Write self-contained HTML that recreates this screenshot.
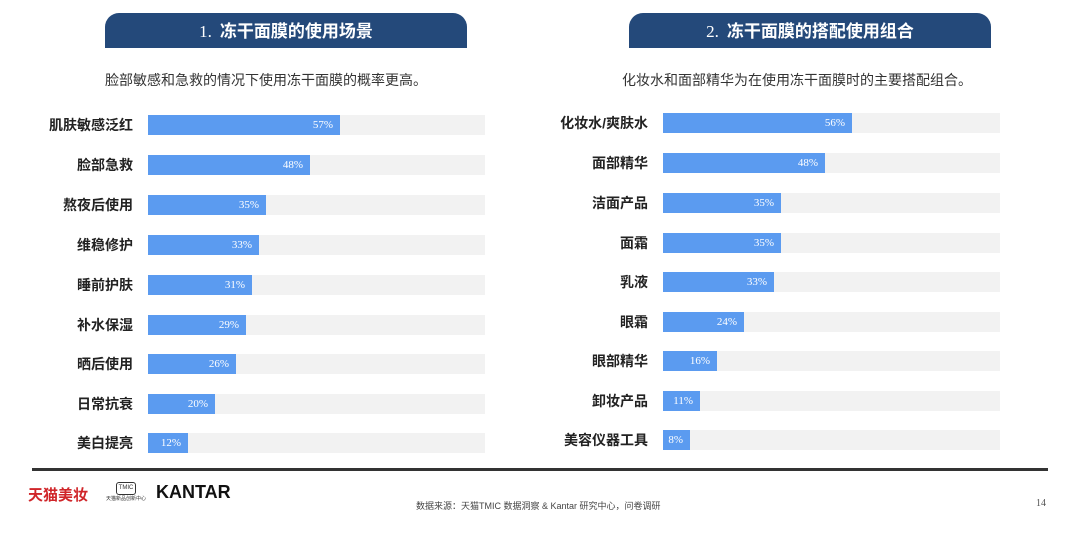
<!DOCTYPE html>
<html><head><meta charset="utf-8"><style>
body{margin:0;width:1080px;height:536px;background:#fff;position:relative;overflow:hidden;font-family:"Liberation Sans","Noto Sans CJK SC",sans-serif}
.hd{position:absolute;top:13px;height:35px;width:362px;background:#24497a;border-radius:14px 14px 0 0;color:#fff;font-size:17px;font-weight:bold;text-align:center;line-height:37px}
.hd span{font-family:"Liberation Serif",serif;font-weight:normal;margin-right:8px}
.sub{position:absolute;top:70px;font-size:14px;color:#333}
.lb{position:absolute;width:150px;text-align:right;font-size:14px;font-weight:bold;color:#222;height:20px;line-height:20px}
.tr{position:absolute;width:337px;height:20px;background:#f2f2f2}
.br{position:absolute;left:0;top:0;height:20px;background:#5b9bf0;color:#fff;font-family:"Liberation Serif",serif;font-size:11px;line-height:20px;text-align:right;box-sizing:border-box;padding-right:7px}
</style></head><body>
<div class="hd" style="left:105px"><span>1.</span>冻干面膜的使用场景</div>
<div class="hd" style="left:629px"><span>2.</span>冻干面膜的搭配使用组合</div>
<div class="sub" style="left:105px">脸部敏感和急救的情况下使用冻干面膜的概率更高。</div>
<div class="sub" style="left:622px">化妆水和面部精华为在使用冻干面膜时的主要搭配组合。</div>
<div id="c"></div>
<div style="position:absolute;left:32px;top:468px;width:1016px;height:3px;background:#333"></div>
<div style="position:absolute;left:28px;top:484px;font-size:15px;font-weight:bold;color:#d0262a">天猫美妆</div>
<div style="position:absolute;left:103px;top:482px;width:46px;font-size:5px;text-align:center;color:#333"><div style="margin:0 auto;width:18px;height:11px;border:1px solid #333;border-radius:3px;font-size:6px;line-height:11px">TMIC</div>天猫新品创新中心</div>
<div style="position:absolute;left:156px;top:482px;font-size:18px;font-weight:bold;color:#111">KANTAR</div>
<div style="position:absolute;left:416px;top:499px;font-size:9px;color:#444">数据来源：天猫TMIC 数据洞察 &amp; Kantar 研究中心，问卷调研</div>
<div style="position:absolute;left:1036px;top:498px;font-size:10px;color:#555;font-family:'Liberation Serif',serif">14</div>
<script>
var L=[["肌肤敏感泛红",57,125],["脸部急救",48,165],["熬夜后使用",35,205],["维稳修护",33,245],["睡前护肤",31,285],["补水保湿",29,325],["晒后使用",26,364],["日常抗衰",20,404],["美白提亮",12,443]];
var R=[["化妆水/爽肤水",56,123],["面部精华",48,163],["洁面产品",35,203],["面霜",35,243],["乳液",33,282],["眼霜",24,322],["眼部精华",16,361],["卸妆产品",11,401],["美容仪器工具",8,440]];
var h="";
function f(a,lx,tx){a.forEach(function(r){var y=r[2]-10;h+='<div class="lb" style="left:'+(lx-150)+'px;top:'+y+'px">'+r[0]+'</div><div class="tr" style="left:'+tx+'px;top:'+y+'px"><div class="br" style="width:'+Math.round(r[1]*3.37)+'px">'+r[1]+'%</div></div>';});}
f(L,133,148);f(R,648,663);
document.getElementById("c").innerHTML=h;
</script>
</body></html>
